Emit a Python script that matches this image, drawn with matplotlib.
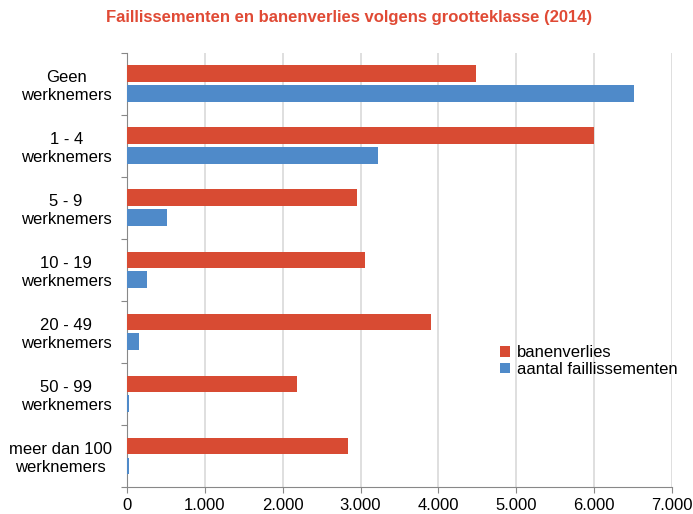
import matplotlib

matplotlib.use('Agg')
import matplotlib.pyplot as plt
import numpy as np

plt.rcParams['font.family'] = ['Liberation Sans', 'DejaVu Sans']

categories = ['Geen\nwerknemers', '1 - 4\nwerknemers', '5 - 9\nwerknemers',
              '10 - 19\nwerknemers', '20 - 49\nwerknemers', '50 - 99\nwerknemers',
              'meer dan 100\nwerknemers']
banenverlies = [4480, 5990, 2950, 3060, 3905, 2190, 2840]
faillissementen = [6510, 3230, 515, 265, 150, 32, 25]
xticks = [0, 1000, 2000, 3000, 4000, 5000, 6000, 7000]
xticklabels = ['0', '1.000', '2.000', '3.000', '4.000', '5.000', '6.000', '7.000']

RED = '#D84B33'
BLUE = '#4F8AC9'

fig = plt.figure(figsize=(6.93, 5.14), dpi=100)
ax = fig.add_axes([0.183, 0.0525, 0.787, 0.845])

y = np.arange(len(categories))
h = 0.27
ax.barh(y - 0.16, banenverlies, height=h, color=RED, label='banenverlies', zorder=3)
ax.barh(y + 0.16, faillissementen, height=h, color=BLUE, label='aantal faillissementen', zorder=3)

ax.set_xlim(0, 7000)
ax.set_ylim(len(categories) - 0.5, -0.5)
ax.set_xticks(xticks)
ax.set_xticklabels(xticklabels, fontsize=12)
ax.xaxis.grid(True, color='#D9D9D9', linewidth=1.2, zorder=0)

# boundaries as major ticks, labels on minor ticks at the centres
ax.set_yticks(np.arange(-0.5, len(categories), 1))
ax.set_yticklabels([])
ax.set_yticks(y, minor=True)
ax.set_yticklabels(categories, minor=True, fontsize=12, ha='right', multialignment='center')
ax.tick_params(axis='y', which='minor', length=0, pad=11)
ax.tick_params(axis='y', which='major', length=4, color='#888888')
ax.tick_params(axis='x', length=4, color='#888888', pad=4)

for s in ['top', 'right']:
    ax.spines[s].set_visible(False)
for s in ['left', 'bottom']:
    ax.spines[s].set_color('#888888')

ax.legend(loc='center left', bbox_to_anchor=(0.684, 0.29), frameon=False,
          fontsize=12, handlelength=0.6, handleheight=0.6, handletextpad=0.4,
          labelspacing=0.1, borderaxespad=0, borderpad=0)

fig.text(0.503, 0.965, 'Faillissementen en banenverlies volgens grootteklasse (2014)',
         ha='center', va='center', color='#E04A35', fontsize=12, fontweight='bold')

fig.savefig('out.png', dpi=100)
